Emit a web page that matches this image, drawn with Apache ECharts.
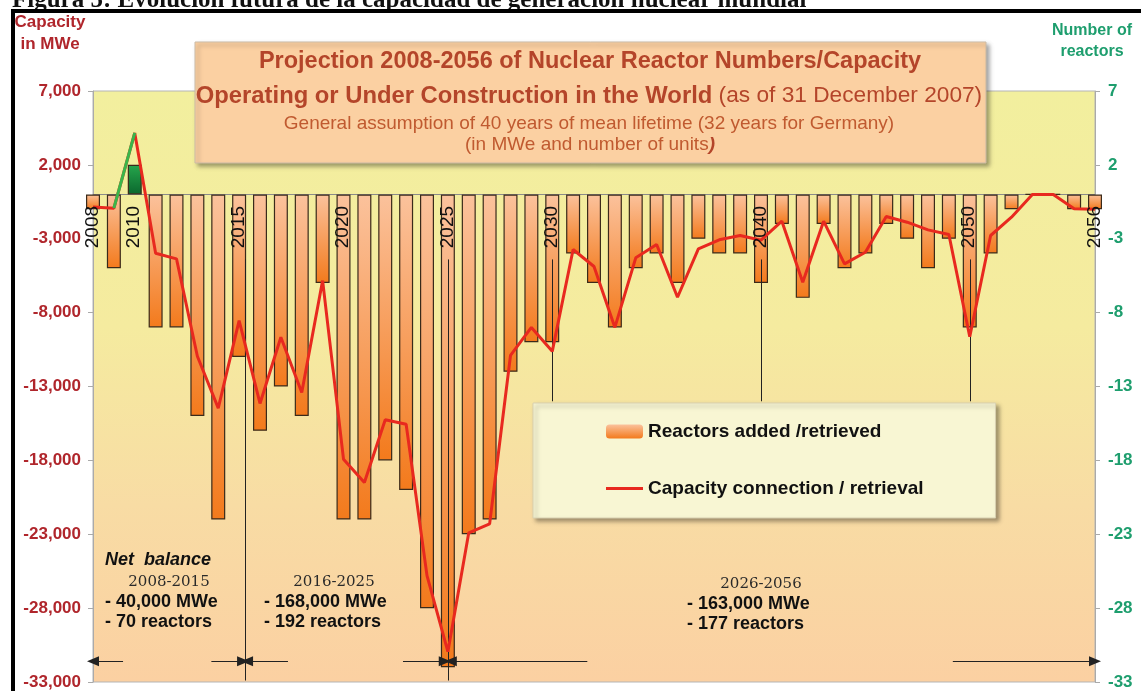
<!DOCTYPE html>
<html><head><meta charset="utf-8">
<script src="https://cdn.jsdelivr.net/npm/echarts@6/dist/echarts.min.js"></script>
<style>html,body{margin:0;padding:0;background:#fff}#c{width:1141px;height:691px}</style>
</head><body><div id="c"></div>
<script>
// ---- data ----
const years = [2008,2009,2010,2011,2012,2013,2014,2015,2016,2017,2018,2019,2020,2021,2022,2023,2024,2025,2026,2027,2028,2029,2030,2031,2032,2033,2034,2035,2036,2037,2038,2039,2040,2041,2042,2043,2044,2045,2046,2047,2048,2049,2050,2051,2052,2053,2054,2055,2056];
const reactors = [-1,-5,2,-9,-9,-15,-22,-11,-16,-13,-15,-6,-22,-22,-18,-20,-28,-32,-23,-22,-12,-10,-10,-4,-6,-9,-5,-4,-6,-3,-4,-4,-6,-2,-7,-2,-5,-4,-2,-3,-5,-3,-9,-4,-1,0,0,-1,-1];
const capacityMWe = [-850,-930,4160,-3980,-4360,-10950,-14460,-8540,-14150,-9670,-13400,-5830,-17920,-19500,-15250,-15550,-25800,-30950,-22900,-22300,-10900,-9000,-10620,-3730,-4880,-9000,-4290,-3390,-6960,-3680,-3070,-2780,-3100,-1810,-5940,-1810,-4700,-3910,-1490,-1880,-2400,-2710,-9630,-2780,-1540,0,0,-970,-1000];
const greenSegmentYears = [2009, 2010];
const labeledYears = [2008,2010,2015,2020,2025,2030,2040,2050,2056];
const periodDividers = [2015.3, 2025];
const shortDividers = [2030, 2040, 2050];
const arrowLevel = -31600;
const arrows = [[2009.44,2008],[2013.67,2015.19],[2017.34,2015.38],[2022.85,2024.85],[2031.68,2025.14],[2049.19,2056]];
const capTicks = {min:-33000, max:7000, interval:5000};
const reactorTicks = {min:-33, max:7, interval:5};
const netBalance = [
  {range:'2008-2015', mwe:'- 40,000 MWe', units:'- 70 reactors'},
  {range:'2016-2025', mwe:'- 168,000 MWe', units:'- 192 reactors'},
  {range:'2026-2056', mwe:'- 163,000 MWe', units:'- 177 reactors'}
];

const SANS = '"Liberation Sans", Arial, Helvetica, sans-serif';
const SERIF = '"DejaVu Serif", "Liberation Serif", serif';
const orangeGrad = new echarts.graphic.LinearGradient(0,0,0,1,[{offset:0,color:'#fbc29c'},{offset:1,color:'#f37a1c'}]);
const greenGrad = new echarts.graphic.LinearGradient(0,0,0,1,[{offset:0,color:'#26a64c'},{offset:1,color:'#0b672e'}]);
const bgGrad = new echarts.graphic.LinearGradient(0,0,0,1,[{offset:0,color:'#f2ef9e'},{offset:0.4,color:'#f5eb9f'},{offset:0.7,color:'#f8dca4'},{offset:1,color:'#fbd0a2'}]);

const barData = years.map((y,i)=>{
  const d = {value:[y, reactors[i]]};
  if (reactors[i] > 0) d.itemStyle = {color: greenGrad};
  return d;
});
const lineData = years.map((y,i)=>[y, capacityMWe[i]]);
const greenData = greenSegmentYears.map(y=>[y, capacityMWe[years.indexOf(y)]]);
const yearLabelData = labeledYears.map(y=>[y, 0]);

const markData = [];
periodDividers.forEach(x=>markData.push([{coord:[x,-4400],symbol:'none'},{coord:[x,-32900],symbol:'none'}]));
shortDividers.forEach(x=>markData.push([{coord:[x,-4400],symbol:'none'},{coord:[x,-14000],symbol:'none'}]));
arrows.forEach(a=>markData.push([{coord:[a[0],arrowLevel],symbol:'none'},{coord:[a[1],arrowLevel],symbol:'triangle',symbolSize:[10,12]}]));

const fmt = v => (v<0?'-':'') + Math.abs(v).toLocaleString('en-US');

const texts = [];
function T(x,y,text,font,fill,align,extra){
  texts.push(Object.assign({type:'text', x:x, y:y, z:100, style:{text:text, font:font, fill:fill, textAlign:align||'left', textVerticalAlign:'middle'}}, extra||{}));
}
// cut-off figure caption at top
texts.push({type:'text', x:12, y:13, z:90, style:{text:'Figura 5: Evolución futura de la capacidad de generación nuclear mundial', font:'bold 25px "Liberation Serif", serif', fill:'#111', textAlign:'left', textVerticalAlign:'bottom'}});
// axis names
T(50,22,'Capacity','bold 17px '+SANS,'#b0262c','center');
T(50,44,'in MWe','bold 17px '+SANS,'#b0262c','center');
T(1092,31,'Number of','bold 16px '+SANS,'#1e9e6e','center');
T(1092,52,'reactors','bold 16px '+SANS,'#1e9e6e','center');
// title box texts
T(590,62,'Projection 2008-2056 of Nuclear Reactor Numbers/Capacity','bold 23.5px '+SANS,'#b4452a','center');
texts.push({type:'text', x:589, y:96, z:100, style:{text:'{a|Operating or Under Construction in the World}{b| (as of 31 December 2007)}', textAlign:'center', textVerticalAlign:'middle',
  rich:{a:{font:'bold 23.8px '+SANS, fill:'#b4452a', color:'#b4452a'}, b:{font:'22.7px '+SANS, fill:'#b4452a', color:'#b4452a'}}}});
T(589,124,'General assumption of 40 years of mean lifetime (32 years for Germany)','19px '+SANS,'#c05a30','center');
texts.push({type:'text', x:590, y:145, z:100, style:{text:'{a|(in MWe and number of units}{b|)}', textAlign:'center', textVerticalAlign:'middle',
  rich:{a:{font:'19px '+SANS, fill:'#c05a30', color:'#c05a30'}, b:{font:'italic bold 19px '+SANS, fill:'#b4452a', color:'#b4452a'}}}});
// net balance annotations
T(105,560,'Net  balance','italic bold 18px '+SANS,'#111','left');
const nbPos = [{left:105, mid:169, y:582},{left:264, mid:334, y:582},{left:687, mid:761, y:584}];
netBalance.forEach((n,i)=>{
  const p = nbPos[i];
  T(p.mid,p.y,n.range,'15px '+SERIF,'#2a2a2a','center');
  T(p.left,p.y+20,n.mwe,'bold 18px '+SANS,'#111','left');
  T(p.left,p.y+40,n.units,'bold 18px '+SANS,'#111','left');
});

const lineIcon = 'path://M0,0L0.01,0L0.01,0.01L0,0.01Z M0,5.5L37,5.5L37,8.5L0,8.5Z M36.99,13.99L37,13.99L37,14L36.99,14Z';

const option = {
  animation:false,
  backgroundColor:'#ffffff',
  grid:{left:93, right:46, top:91, bottom:9, containLabel:false, outerBoundsMode:'none', show:true, backgroundColor:bgGrad, borderColor:'#b5b5b5', borderWidth:1},
  legend:{
    data:[{name:'Reactors added /retrieved', itemStyle:{borderWidth:0}},
          {name:'Capacity connection / retrieval', icon:lineIcon, itemStyle:{color:'#e8291f', borderWidth:0}, lineStyle:{width:0}}],
    orient:'vertical', left:533, top:403, itemWidth:37, itemHeight:14, itemGap:38,
    padding:[19,72,20,73], backgroundColor:'#f8f6d3', borderColor:'#d8d0b0', borderWidth:1,
    shadowBlur:4, shadowColor:'rgba(0,0,0,0.35)', shadowOffsetX:3, shadowOffsetY:3,
    textStyle:{fontSize:19, fontWeight:'bold', color:'#111', fontFamily:SANS},
    selectedMode:false, z:20
  },
  xAxis:{
    type:'value', min:2008, max:2056, interval:1,
    axisLine:{show:true, lineStyle:{color:'#b5b5b5', width:1}},
    axisTick:{show:false}, splitLine:{show:false}, axisLabel:{show:false}
  },
  yAxis:[
    {type:'value', position:'left', min:capTicks.min, max:capTicks.max, interval:capTicks.interval,
     axisLine:{show:true, onZero:false, lineStyle:{color:'#aaaaaa'}}, axisTick:{show:true, length:5, lineStyle:{color:'#aaaaaa'}},
     splitLine:{show:false},
     axisLabel:{margin:12, color:'#b0262c', fontWeight:'bold', fontSize:17, fontFamily:SANS, formatter:fmt}},
    {type:'value', position:'right', min:reactorTicks.min, max:reactorTicks.max, interval:reactorTicks.interval,
     axisLine:{show:true, onZero:false, lineStyle:{color:'#aaaaaa'}}, axisTick:{show:true, length:5, lineStyle:{color:'#aaaaaa'}},
     splitLine:{show:false},
     axisLabel:{margin:13, color:'#1e9e6e', fontWeight:'bold', fontSize:17, fontFamily:SANS}}
  ],
  series:[
    {name:'Reactors added /retrieved', type:'bar', yAxisIndex:1, barWidth:14, clip:true, data:barData, z:2,
     itemStyle:{color:orangeGrad, borderColor:'#3a2a1a', borderWidth:1.2},
     markLine:{silent:true, animation:false, symbol:'none', label:{show:false}, z:1, lineStyle:{color:'#8a8a8a', width:1, type:'solid'}, data:[{yAxis:0}]}},
    {name:'Capacity connection / retrieval', type:'line', yAxisIndex:0, data:lineData, symbol:'none', showSymbol:false, z:5,
     lineStyle:{color:'#e8291f', width:3}, itemStyle:{color:'#e8291f'},
     markLine:{silent:true, animation:false, symbol:'none', label:{show:false}, lineStyle:{color:'#222', width:1, type:'solid'}, data:markData}},
    {name:'green', type:'line', yAxisIndex:0, data:greenData, symbol:'none', showSymbol:false, z:6,
     lineStyle:{color:'#3ab54a', width:3}},
    {name:'yearLabels', type:'scatter', yAxisIndex:1, data:yearLabelData, symbol:'circle', symbolSize:1, clip:false, silent:true, z:7,
     itemStyle:{color:'rgba(0,0,0,0)', opacity:1},
     labelLayout:{hideOverlap:false},
     label:{show:true, opacity:1, position:[0,12], rotate:90, align:'right', verticalAlign:'middle', fontSize:19, color:'#111', fontFamily:SANS,
       formatter:p=>String(p.value[0])}}
  ],
  graphic:{elements:[
    {type:'rect', z:95, shape:{x:11, y:9, width:1135, height:4}, style:{fill:'#000'}},
    {type:'rect', z:95, shape:{x:11, y:9, width:4, height:690}, style:{fill:'#000'}},
    {type:'rect', z:50, shape:{x:195, y:42, width:791, height:121}, style:{fill:'#fbd0a2', stroke:'#cbbba6', lineWidth:1, shadowBlur:4, shadowColor:'rgba(0,0,0,0.35)', shadowOffsetX:3, shadowOffsetY:3}}
  ].concat(texts)}
};
const chart = echarts.init(document.getElementById('c'), null, {renderer:'canvas'});
chart.setOption(option);
</script></body></html>
